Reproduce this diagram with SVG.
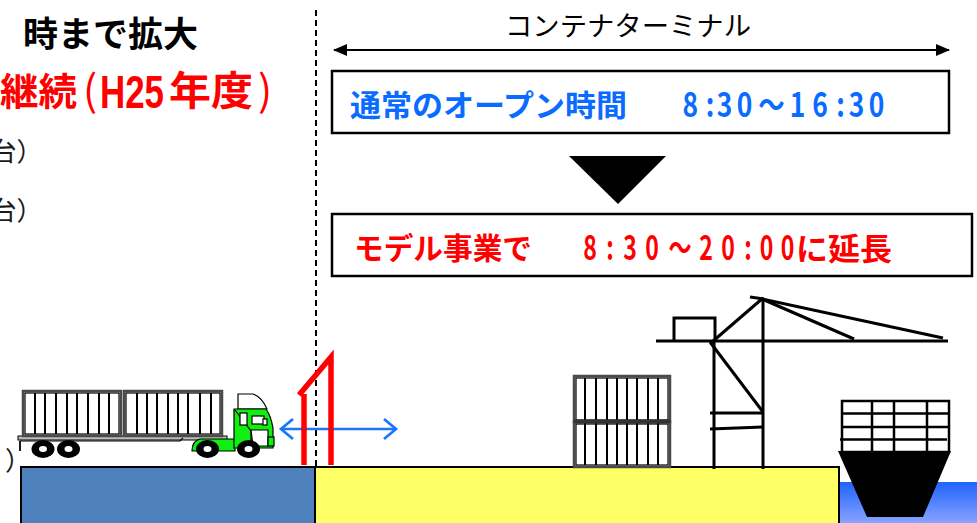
<svg xmlns="http://www.w3.org/2000/svg" width="977" height="523" viewBox="0 0 977 523">
  <style>
    .jp { font-family: "Noto Sans CJK JP", "Noto Sans", sans-serif; }
    .lat { font-family: "Liberation Sans", Arial, sans-serif; }
    .b { font-weight: bold; }
    .box { fill: #fff; stroke: #000; stroke-width: 2.5; }
    .ln { stroke: #000; stroke-width: 3; fill: none; }
    .slat { stroke: #000; stroke-width: 2; }
    .cframe { fill: #fff; stroke: #4a4a4a; stroke-width: 2.5; }
    .cinner { fill: none; stroke: #000; stroke-width: 1.2; }
    .wheel { fill: #000; }
    .hub { fill: #fff; }
    .cab { fill: #11ee11; stroke: #000; stroke-width: 1.2; }
    .win { fill: #fff; stroke: #000; stroke-width: 1.2; }
    .gate { stroke: #ff0000; stroke-width: 5.5; fill: none; stroke-linejoin: miter; }
  </style>
  <defs>
    <marker id="headSolid" viewBox="0 0 14 12" refX="13" refY="6" markerWidth="14" markerHeight="12" markerUnits="userSpaceOnUse" orient="auto-start-reverse">
      <path d="M0,0 L14,6 L0,12 Z" fill="#000"/>
    </marker>
    <marker id="headOpen" viewBox="0 0 14 22" refX="12" refY="11" markerWidth="14" markerHeight="22" markerUnits="userSpaceOnUse" orient="auto-start-reverse" overflow="visible">
      <path d="M0,1 L12,11 L0,21" fill="none" stroke="#1a75ff" stroke-width="2.7"/>
    </marker>
    <linearGradient id="sea" x1="0" y1="0" x2="0" y2="1">
      <stop offset="0" stop-color="#1f63ff"/>
      <stop offset="1" stop-color="#93aaff"/>
    </linearGradient>
  </defs>

  <!-- headline text, left column -->
  <g id="headline">
    <text class="jp b" x="23" y="47" font-size="35" textLength="175" lengthAdjust="spacingAndGlyphs" fill="#000">時まで拡大</text>
    <text class="jp b" x="0" y="105" font-size="38" textLength="77" lengthAdjust="spacingAndGlyphs" fill="#ff0000">継続</text>
    <text class="jp" x="83" y="106" font-size="42" fill="#ff0000">(</text>
    <text class="lat b" x="100" y="108" font-size="46" textLength="64" lengthAdjust="spacingAndGlyphs" fill="#ff0000">H25</text>
    <text class="jp b" x="169" y="105" font-size="40" textLength="84" lengthAdjust="spacingAndGlyphs" fill="#ff0000">年度</text>
    <text class="jp" x="258" y="106" font-size="42" fill="#ff0000">)</text>
    <text class="jp" x="-9.5" y="161" font-size="26" fill="#1a1a1a">台）</text>
    <text class="jp" x="-9.5" y="220" font-size="26" fill="#1a1a1a">台）</text>
    <text class="jp" x="5" y="470" font-size="26" fill="#1a1a1a">）</text>
  </g>

  <!-- ground: road side, terminal yard, sea -->
  <g id="ground">
    <rect x="840" y="482" width="140" height="45" fill="url(#sea)"/>
    <rect x="21" y="467" width="294" height="60" fill="#4f81bd" stroke="#000" stroke-width="2"/>
    <rect x="315" y="467" width="524" height="60" fill="#ffff66" stroke="#000" stroke-width="2"/>
  </g>

  <!-- terminal label -->
  <g id="terminal-label">
    <text class="jp" x="505" y="36" font-size="27" textLength="246" lengthAdjust="spacingAndGlyphs" fill="#000">コンテナターミナル</text>
  </g>

  <!-- normal opening hours -->
  <g id="box-normal">
    <rect class="box" x="332" y="71" width="617" height="62"/>
    <text class="jp b" x="350" y="116" font-size="30" textLength="277" lengthAdjust="spacingAndGlyphs" fill="#0a6cff">通常のオープン時間</text>
    <text class="jp b" transform="scale(0.8 1)" x="863 887.5 905.6 930.6 964.4 996.9 1025 1050.6 1070.6 1095.6" y="117" font-size="33" text-anchor="middle" fill="#0a6cff">8:30～16:30</text>
  </g>

  <!-- extended hours under the pilot scheme -->
  <g id="box-model">
    <rect class="box" x="332" y="214" width="640" height="62"/>
    <text class="jp b" x="354" y="259" font-size="30" textLength="178" lengthAdjust="spacingAndGlyphs" fill="#ff0000">モデル事業で</text>
    <text class="jp b" transform="scale(0.7 1)" x="842.9 871.4 900 931.4 971.4 1008.6 1040 1068.6 1095 1125" y="260" font-size="33" text-anchor="middle" fill="#ff0000">8:30～20:00</text>
    <text class="jp b" x="796" y="260" font-size="31" textLength="96" lengthAdjust="spacingAndGlyphs" fill="#ff0000">に延長</text>
  </g>

  <!-- stacked containers on the yard -->
  <g id="yard-stack">
    <rect class="cframe" x="574" y="376" width="96" height="46"/>
    <rect class="cinner" x="576" y="378" width="92" height="42"/>
    <rect class="cframe" x="574" y="422" width="96" height="45"/>
    <rect class="cinner" x="576" y="424" width="92" height="41"/>
    <g class="slat">
      <path d="M585,378 V465 M596,378 V465 M607,378 V465 M617,378 V465 M627,378 V465 M637,378 V465 M648,378 V465 M658,378 V465"/>
    </g>
    <rect x="574" y="419.5" width="96" height="4" fill="#333"/>
  </g>

  <!-- quay crane -->
  <g id="crane">
    <path class="ln" d="M656,341 H948"/>
    <path class="ln" d="M674,341 V318 H715 V341"/>
    <path class="ln" d="M714,341 V469"/>
    <path class="ln" d="M763,298 V469"/>
    <path class="ln" d="M750,297 L764,299"/>
    <path class="ln" d="M712,342 L763,298"/>
    <path class="ln" d="M762,299 L943,338"/>
    <path class="ln" d="M762,299 L854,339"/>
    <path class="ln" d="M710,342 L763,412"/>
    <path class="ln" d="M710,413 H763"/>
    <path class="ln" d="M710,429 L763,427"/>
  </g>

  <!-- container ship -->
  <g id="ship">
    <rect x="842" y="401" width="107" height="51" fill="#fff" stroke="#000" stroke-width="2.5"/>
    <path d="M842,413.5 H949 M842,427 H949 M840,439.5 H947 M872,401 V452 M894,401 V452 M927,401 V452" stroke="#000" stroke-width="2.5" fill="none"/>
    <polygon points="838,451 951,451 923,517 867,517" fill="#000"/>
  </g>

  <!-- road truck with two containers -->
  <g id="truck">
    <rect x="18" y="436" width="209" height="4" fill="#bbb" stroke="#000" stroke-width="1"/>
    <path d="M20,441 H180 L183,438" fill="none" stroke="#000" stroke-width="1.2"/>
    <path d="M20,441 V451" fill="none" stroke="#000" stroke-width="1.8"/>
    <rect class="cframe" x="23" y="391" width="98" height="45"/>
    <rect class="cinner" x="25" y="393" width="94" height="41"/>
    <rect class="cframe" x="124" y="391" width="98" height="45"/>
    <rect class="cinner" x="126" y="393" width="94" height="41"/>
    <g class="slat">
      <path d="M35,393 V434 M45,393 V434 M56,393 V434 M67,393 V434 M77,393 V434 M88,393 V434 M99,393 V434 M109,393 V434"/>
      <path d="M137,393 V434 M147,393 V434 M157,393 V434 M168,393 V434 M178,393 V434 M188,393 V434 M200,393 V434 M211,393 V434"/>
    </g>
    <path class="cab" d="M192,451 Q192,441 200,439 H235 V451 Z"/>
    <path class="win" d="M238,409 V394 H253 Q262,397 267,409 Z"/>
    <path class="cab" d="M234,409 H266 Q271,416 273,428 V448 H234 Z"/>
    <path d="M235,410 L251,431 V448" fill="none" stroke="#000" stroke-width="1.2"/>
    <rect class="win" x="240" y="413" width="7" height="12"/>
    <rect class="win" x="252" y="416" width="12" height="8"/>
    <rect class="win" x="263" y="419" width="4" height="6"/>
    <path class="win" d="M251,430 H268 V446 H253 Z"/>
    <rect class="cab" x="268" y="437" width="6" height="9"/>
    <ellipse class="wheel" cx="43" cy="449" rx="11.5" ry="9"/>
    <ellipse class="wheel" cx="68.5" cy="449" rx="11.5" ry="9"/>
    <ellipse class="wheel" cx="207.5" cy="449" rx="11.5" ry="9"/>
    <ellipse class="wheel" cx="248.5" cy="449" rx="11.5" ry="9"/>
    <ellipse class="hub" cx="43" cy="449" rx="4" ry="3"/>
    <ellipse class="hub" cx="68.5" cy="449" rx="4" ry="3"/>
    <ellipse class="hub" cx="207.5" cy="449" rx="4" ry="3"/>
    <ellipse class="hub" cx="248.5" cy="449" rx="4" ry="3"/>
  </g>

  <!-- boundary, flow arrows and the down pointer -->
  <g id="connectors">
    <line x1="316" y1="10" x2="316" y2="466" stroke="#000" stroke-width="2" stroke-dasharray="6 4"/>
    <line x1="334" y1="50" x2="949" y2="50" stroke="#000" stroke-width="2.2" marker-start="url(#headSolid)" marker-end="url(#headSolid)"/>
    <polygon points="569,156 666,156 618,204" fill="#000"/>
    <line x1="281" y1="429" x2="396" y2="429" stroke="#1a75ff" stroke-width="2.7" marker-start="url(#headOpen)" marker-end="url(#headOpen)"/>
  </g>

  <!-- terminal gate -->
  <g id="gate">
    <path class="gate" d="M304,465 V394"/>
    <path class="gate" d="M299,395 L331,357 V465"/>
  </g>
</svg>
